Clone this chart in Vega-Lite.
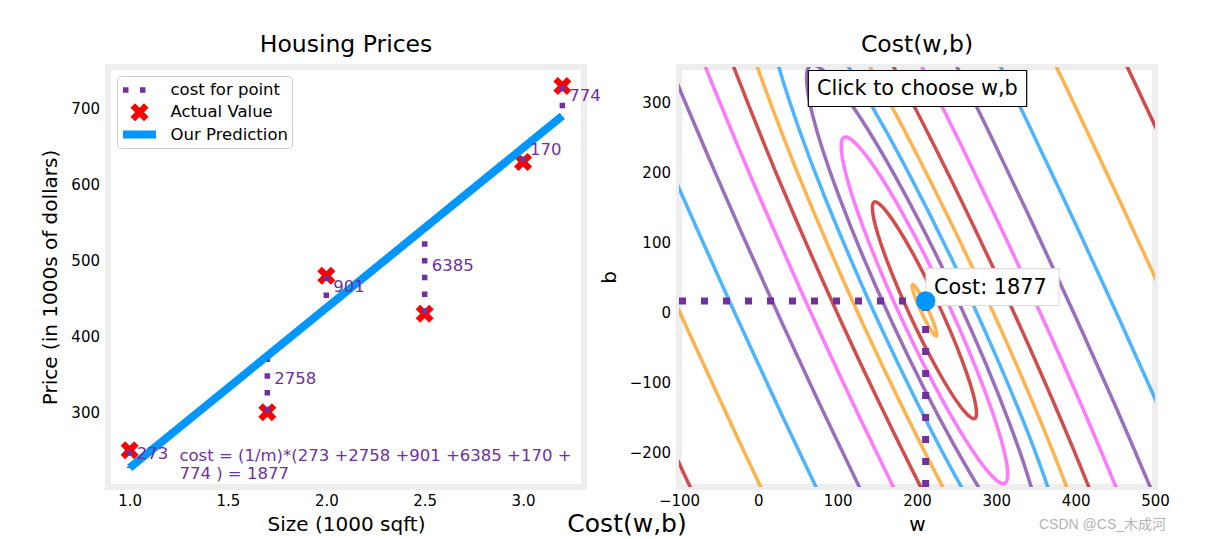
{
  "$schema": "https://vega.github.io/schema/vega-lite/v6.json",
  "background": "white",
  "padding": {"left": 37, "top": 29, "right": 5, "bottom": 0},
  "config": {
    "font": "DejaVu Sans",
    "view": {"stroke": "#eeeeee", "strokeWidth": 6},
    "axis": {"labelFont": "DejaVu Sans", "labelFontSize": 15, "labelColor": "#000000", "titleFont": "DejaVu Sans", "titleFontSize": 20, "titleFontWeight": "normal", "titleColor": "#000000", "ticks": false, "domain": false, "grid": false, "labelFlush": false},
    "title": {"font": "DejaVu Sans", "fontSize": 23.5, "fontWeight": "normal", "color": "#000000", "baseline": "alphabetic", "offset": 11}
  },
  "datasets": {
    "house": [
      {"x": 1.0, "y": 250, "f": 226.6, "mid": 238.3, "c": "273", "s": "Actual Value"},
      {"x": 1.7, "y": 300, "f": 374.3, "mid": 337.2, "c": "2758", "s": "Actual Value"},
      {"x": 2.0, "y": 480, "f": 437.6, "mid": 458.8, "c": "901", "s": "Actual Value"},
      {"x": 2.5, "y": 430, "f": 543.0, "mid": 486.5, "c": "6385", "s": "Actual Value"},
      {"x": 3.0, "y": 630, "f": 648.5, "mid": 639.3, "c": "170", "s": "Actual Value"},
      {"x": 3.2, "y": 730, "f": 690.7, "mid": 710.4, "c": "774", "s": "Actual Value"}
    ],
    "ell": [
      {"g": "e75", "l": "7.5", "o": 0, "w": 213.71, "b": 4.16},
      {"g": "e75", "l": "7.5", "o": 1, "w": 205.63, "b": 22.3},
      {"g": "e75", "l": "7.5", "o": 2, "w": 198.57, "b": 35.11},
      {"g": "e75", "l": "7.5", "o": 3, "w": 194.4, "b": 39.16},
      {"g": "e75", "l": "7.5", "o": 4, "w": 194.25, "b": 33.35},
      {"g": "e75", "l": "7.5", "o": 5, "w": 198.17, "b": 19.26},
      {"g": "e75", "l": "7.5", "o": 6, "w": 205.09, "b": 0.64},
      {"g": "e75", "l": "7.5", "o": 7, "w": 213.17, "b": -17.5},
      {"g": "e75", "l": "7.5", "o": 8, "w": 220.23, "b": -30.31},
      {"g": "e75", "l": "7.5", "o": 9, "w": 224.4, "b": -34.36},
      {"g": "e75", "l": "7.5", "o": 10, "w": 224.55, "b": -28.55},
      {"g": "e75", "l": "7.5", "o": 11, "w": 220.63, "b": -14.46},
      {"g": "e80", "l": "8.0", "o": 0, "w": 227.55, "b": 9.8},
      {"g": "e80", "l": "8.0", "o": 1, "w": 193.54, "b": 86.22},
      {"g": "e80", "l": "8.0", "o": 2, "w": 163.79, "b": 140.17},
      {"g": "e80", "l": "8.0", "o": 3, "w": 146.25, "b": 157.21},
      {"g": "e80", "l": "8.0", "o": 4, "w": 145.63, "b": 132.77},
      {"g": "e80", "l": "8.0", "o": 5, "w": 162.1, "b": 73.4},
      {"g": "e80", "l": "8.0", "o": 6, "w": 191.25, "b": -5.0},
      {"g": "e80", "l": "8.0", "o": 7, "w": 225.26, "b": -81.42},
      {"g": "e80", "l": "8.0", "o": 8, "w": 255.01, "b": -135.37},
      {"g": "e80", "l": "8.0", "o": 9, "w": 272.55, "b": -152.41},
      {"g": "e80", "l": "8.0", "o": 10, "w": 273.17, "b": -127.97},
      {"g": "e80", "l": "8.0", "o": 11, "w": 256.7, "b": -68.6},
      {"g": "e85", "l": "8.5", "o": 0, "w": 238.38, "b": 14.22},
      {"g": "e85", "l": "8.5", "o": 1, "w": 184.02, "b": 136.39},
      {"g": "e85", "l": "8.5", "o": 2, "w": 136.46, "b": 222.64},
      {"g": "e85", "l": "8.5", "o": 3, "w": 108.44, "b": 249.89},
      {"g": "e85", "l": "8.5", "o": 4, "w": 107.48, "b": 210.82},
      {"g": "e85", "l": "8.5", "o": 5, "w": 133.82, "b": 115.91},
      {"g": "e85", "l": "8.5", "o": 6, "w": 180.42, "b": -9.42},
      {"g": "e85", "l": "8.5", "o": 7, "w": 234.78, "b": -131.59},
      {"g": "e85", "l": "8.5", "o": 8, "w": 282.34, "b": -217.84},
      {"g": "e85", "l": "8.5", "o": 9, "w": 310.36, "b": -245.09},
      {"g": "e85", "l": "8.5", "o": 10, "w": 311.32, "b": -206.02},
      {"g": "e85", "l": "8.5", "o": 11, "w": 284.98, "b": -111.11},
      {"g": "e90", "l": "9.0", "o": 0, "w": 250.42, "b": 19.13},
      {"g": "e90", "l": "9.0", "o": 1, "w": 173.46, "b": 192.07},
      {"g": "e90", "l": "9.0", "o": 2, "w": 106.14, "b": 314.18},
      {"g": "e90", "l": "9.0", "o": 3, "w": 66.48, "b": 352.76},
      {"g": "e90", "l": "9.0", "o": 4, "w": 65.12, "b": 297.44},
      {"g": "e90", "l": "9.0", "o": 5, "w": 102.42, "b": 163.09},
      {"g": "e90", "l": "9.0", "o": 6, "w": 168.38, "b": -14.33},
      {"g": "e90", "l": "9.0", "o": 7, "w": 245.34, "b": -187.27},
      {"g": "e90", "l": "9.0", "o": 8, "w": 312.66, "b": -309.38},
      {"g": "e90", "l": "9.0", "o": 9, "w": 352.32, "b": -347.96},
      {"g": "e90", "l": "9.0", "o": 10, "w": 353.68, "b": -292.64},
      {"g": "e90", "l": "9.0", "o": 11, "w": 316.38, "b": -158.29}
    ],
    "br": [
      {"g": "p95", "l": "9.5", "o": 0, "w": 395.03, "b": -353.87},
      {"g": "p95", "l": "9.5", "o": 1, "w": 352.21, "b": -209.35},
      {"g": "p95", "l": "9.5", "o": 2, "w": 301.56, "b": -68.0},
      {"g": "p95", "l": "9.5", "o": 3, "w": 245.70, "b": 71.21},
      {"g": "p95", "l": "9.5", "o": 4, "w": 184.91, "b": 208.40},
      {"g": "p95", "l": "9.5", "o": 5, "w": 141.01, "b": 298.49},
      {"g": "p95", "l": "9.5", "o": 6, "w": 92.87, "b": 386.85},
      {"g": "p95", "l": "9.5", "o": 7, "w": 47.21, "b": 454.63},
      {"g": "m95", "l": "9.5", "o": 0, "w": 325.93, "b": -382.05},
      {"g": "m95", "l": "9.5", "o": 1, "w": 255.45, "b": -248.81},
      {"g": "m95", "l": "9.5", "o": 2, "w": 192.78, "b": -112.38},
      {"g": "m95", "l": "9.5", "o": 3, "w": 135.32, "b": 26.19},
      {"g": "m95", "l": "9.5", "o": 4, "w": 82.81, "b": 166.76},
      {"g": "m95", "l": "9.5", "o": 5, "w": 51.17, "b": 261.85},
      {"g": "m95", "l": "9.5", "o": 6, "w": 23.77, "b": 358.67},
      {"g": "m95", "l": "9.5", "o": 7, "w": 8.99, "b": 439.03},
      {"g": "p100", "l": "10.0", "o": 0, "w": 419.57, "b": -343.86},
      {"g": "p100", "l": "10.0", "o": 1, "w": 371.96, "b": -201.29},
      {"g": "p100", "l": "10.0", "o": 2, "w": 319.70, "b": -60.6},
      {"g": "p100", "l": "10.0", "o": 3, "w": 263.64, "b": 78.53},
      {"g": "p100", "l": "10.0", "o": 4, "w": 203.90, "b": 216.15},
      {"g": "p100", "l": "10.0", "o": 5, "w": 161.79, "b": 306.97},
      {"g": "p100", "l": "10.0", "o": 6, "w": 117.41, "b": 396.86},
      {"g": "p100", "l": "10.0", "o": 7, "w": 79.70, "b": 467.88},
      {"g": "m100", "l": "10.0", "o": 0, "w": 301.39, "b": -392.06},
      {"g": "m100", "l": "10.0", "o": 1, "w": 235.70, "b": -256.87},
      {"g": "m100", "l": "10.0", "o": 2, "w": 174.64, "b": -119.78},
      {"g": "m100", "l": "10.0", "o": 3, "w": 117.38, "b": 18.87},
      {"g": "m100", "l": "10.0", "o": 4, "w": 63.82, "b": 159.01},
      {"g": "m100", "l": "10.0", "o": 5, "w": 30.39, "b": 253.37},
      {"g": "m100", "l": "10.0", "o": 6, "w": -0.77, "b": 348.66},
      {"g": "m100", "l": "10.0", "o": 7, "w": -23.5, "b": 425.78},
      {"g": "p105", "l": "10.5", "o": 0, "w": 445.72, "b": -333.19},
      {"g": "p105", "l": "10.5", "o": 1, "w": 395.55, "b": -191.67},
      {"g": "p105", "l": "10.5", "o": 2, "w": 342.2, "b": -51.43},
      {"g": "p105", "l": "10.5", "o": 3, "w": 286.0, "b": 87.65},
      {"g": "p105", "l": "10.5", "o": 4, "w": 227.01, "b": 225.58},
      {"g": "p105", "l": "10.5", "o": 5, "w": 186.03, "b": 316.86},
      {"g": "p105", "l": "10.5", "o": 6, "w": 143.56, "b": 407.53},
      {"g": "p105", "l": "10.5", "o": 7, "w": 108.34, "b": 479.56},
      {"g": "m105", "l": "10.5", "o": 0, "w": 275.24, "b": -402.73},
      {"g": "m105", "l": "10.5", "o": 1, "w": 212.11, "b": -266.49},
      {"g": "m105", "l": "10.5", "o": 2, "w": 152.14, "b": -128.95},
      {"g": "m105", "l": "10.5", "o": 3, "w": 95.02, "b": 9.75},
      {"g": "m105", "l": "10.5", "o": 4, "w": 40.71, "b": 149.58},
      {"g": "m105", "l": "10.5", "o": 5, "w": 6.15, "b": 243.48},
      {"g": "m105", "l": "10.5", "o": 6, "w": -26.92, "b": 337.99},
      {"g": "m105", "l": "10.5", "o": 7, "w": -52.14, "b": 414.1},
      {"g": "p110", "l": "11.0", "o": 0, "w": 476.71, "b": -320.55},
      {"g": "p110", "l": "11.0", "o": 1, "w": 424.90, "b": -179.69},
      {"g": "p110", "l": "11.0", "o": 2, "w": 370.77, "b": -39.77},
      {"g": "p110", "l": "11.0", "o": 3, "w": 314.46, "b": 99.26},
      {"g": "p110", "l": "11.0", "o": 4, "w": 256.02, "b": 237.41},
      {"g": "p110", "l": "11.0", "o": 5, "w": 215.82, "b": 329.01},
      {"g": "p110", "l": "11.0", "o": 6, "w": 174.55, "b": 420.17},
      {"g": "p110", "l": "11.0", "o": 7, "w": 140.71, "b": 492.77},
      {"g": "m110", "l": "11.0", "o": 0, "w": 244.25, "b": -415.37},
      {"g": "m110", "l": "11.0", "o": 1, "w": 182.76, "b": -278.47},
      {"g": "m110", "l": "11.0", "o": 2, "w": 123.57, "b": -140.61},
      {"g": "m110", "l": "11.0", "o": 3, "w": 66.56, "b": -1.86},
      {"g": "m110", "l": "11.0", "o": 4, "w": 11.70, "b": 137.75},
      {"g": "m110", "l": "11.0", "o": 5, "w": -23.64, "b": 231.33},
      {"g": "m110", "l": "11.0", "o": 6, "w": -57.91, "b": 325.35},
      {"g": "m110", "l": "11.0", "o": 7, "w": -84.51, "b": 400.89},
      {"g": "p115", "l": "11.5", "o": 0, "w": 514.76, "b": -305.02},
      {"g": "p115", "l": "11.5", "o": 1, "w": 461.79, "b": -164.64},
      {"g": "p115", "l": "11.5", "o": 2, "w": 407.07, "b": -24.96},
      {"g": "p115", "l": "11.5", "o": 3, "w": 350.69, "b": 114.04},
      {"g": "p115", "l": "11.5", "o": 4, "w": 292.66, "b": 252.36},
      {"g": "p115", "l": "11.5", "o": 5, "w": 253.02, "b": 344.19},
      {"g": "p115", "l": "11.5", "o": 6, "w": 212.6, "b": 435.70},
      {"g": "p115", "l": "11.5", "o": 7, "w": 179.67, "b": 508.66},
      {"g": "m115", "l": "11.5", "o": 0, "w": 206.2, "b": -430.9},
      {"g": "m115", "l": "11.5", "o": 1, "w": 145.87, "b": -293.52},
      {"g": "m115", "l": "11.5", "o": 2, "w": 87.27, "b": -155.42},
      {"g": "m115", "l": "11.5", "o": 3, "w": 30.33, "b": -16.64},
      {"g": "m115", "l": "11.5", "o": 4, "w": -24.94, "b": 122.80},
      {"g": "m115", "l": "11.5", "o": 5, "w": -60.84, "b": 216.15},
      {"g": "m115", "l": "11.5", "o": 6, "w": -95.96, "b": 309.82},
      {"g": "m115", "l": "11.5", "o": 7, "w": -123.47, "b": 385.0},
      {"g": "p120", "l": "12.0", "o": 0, "w": 562.35, "b": -285.61},
      {"g": "p120", "l": "12.0", "o": 1, "w": 508.52, "b": -145.58},
      {"g": "p120", "l": "12.0", "o": 2, "w": 453.36, "b": -6.08},
      {"g": "p120", "l": "12.0", "o": 3, "w": 396.91, "b": 132.90},
      {"g": "p120", "l": "12.0", "o": 4, "w": 339.20, "b": 271.34},
      {"g": "p120", "l": "12.0", "o": 5, "w": 299.98, "b": 363.34},
      {"g": "p120", "l": "12.0", "o": 6, "w": 260.19, "b": 455.11},
      {"g": "p120", "l": "12.0", "o": 7, "w": 227.9, "b": 528.33},
      {"g": "m120", "l": "12.0", "o": 0, "w": 158.61, "b": -450.31},
      {"g": "m120", "l": "12.0", "o": 1, "w": 99.14, "b": -312.58},
      {"g": "m120", "l": "12.0", "o": 2, "w": 40.98, "b": -174.30},
      {"g": "m120", "l": "12.0", "o": 3, "w": -15.89, "b": -35.5},
      {"g": "m120", "l": "12.0", "o": 4, "w": -71.48, "b": 103.82},
      {"g": "m120", "l": "12.0", "o": 5, "w": -107.80, "b": 197.0},
      {"g": "m120", "l": "12.0", "o": 6, "w": -143.55, "b": 290.41},
      {"g": "m120", "l": "12.0", "o": 7, "w": -171.7, "b": 365.33},
      {"g": "p125", "l": "12.5", "o": 0, "w": 622.65, "b": -261.01},
      {"g": "p125", "l": "12.5", "o": 1, "w": 568.17, "b": -121.25},
      {"g": "p125", "l": "12.5", "o": 2, "w": 512.68, "b": 18.12},
      {"g": "p125", "l": "12.5", "o": 3, "w": 456.19, "b": 157.08},
      {"g": "p125", "l": "12.5", "o": 4, "w": 398.70, "b": 295.62},
      {"g": "p125", "l": "12.5", "o": 5, "w": 359.82, "b": 387.75},
      {"g": "p125", "l": "12.5", "o": 6, "w": 320.49, "b": 479.71},
      {"g": "p125", "l": "12.5", "o": 7, "w": 288.68, "b": 553.13},
      {"g": "m125", "l": "12.5", "o": 0, "w": 98.31, "b": -474.91},
      {"g": "m125", "l": "12.5", "o": 1, "w": 39.49, "b": -336.91},
      {"g": "m125", "l": "12.5", "o": 2, "w": -18.34, "b": -198.50},
      {"g": "m125", "l": "12.5", "o": 3, "w": -75.17, "b": -59.68},
      {"g": "m125", "l": "12.5", "o": 4, "w": -130.98, "b": 79.54},
      {"g": "m125", "l": "12.5", "o": 5, "w": -167.64, "b": 172.59},
      {"g": "p130", "l": "13.0", "o": 0, "w": 699.37, "b": -229.72},
      {"g": "p130", "l": "13.0", "o": 1, "w": 644.4, "b": -90.15},
      {"g": "p130", "l": "13.0", "o": 2, "w": 588.66, "b": 49.11},
      {"g": "p130", "l": "13.0", "o": 3, "w": 532.12, "b": 188.05},
      {"g": "p130", "l": "13.0", "o": 4, "w": 474.82, "b": 326.67},
      {"g": "p130", "l": "13.0", "o": 5, "w": 436.19, "b": 418.91},
      {"g": "p130", "l": "13.0", "o": 6, "w": 397.21, "b": 511.0},
      {"g": "m130", "l": "13.0", "o": 0, "w": 21.59, "b": -506.2},
      {"g": "m130", "l": "13.0", "o": 1, "w": -36.74, "b": -368.01},
      {"g": "m130", "l": "13.0", "o": 2, "w": -94.32, "b": -229.49},
      {"g": "m130", "l": "13.0", "o": 3, "w": -151.10, "b": -90.65},
      {"g": "m130", "l": "13.0", "o": 4, "w": -207.1, "b": 48.49}
    ],
    "wb": [{"w": 210.9, "b": 15.7, "wlo": -100, "blo": -250}],
    "notes": [
      {"k": "cost", "x1": 211.4, "x2": 379.0, "y1": 62.1, "y2": 9.3, "tx": 221.4, "ty": 26, "t": "Cost: 1877"},
      {"k": "click", "x1": 63.0, "x2": 338.3, "y1": 345.0, "y2": 293.6, "tx": 74.0, "ty": 310.5, "t": "Click to choose w,b"}
    ]
  },
  "bounds": "flush",
  "spacing": 95,
  "resolve": {"scale": {"color": "independent", "shape": "independent", "stroke": "independent"}, "legend": {"color": "independent", "shape": "independent"}},
  "hconcat": [
    {
      "width": 476,
      "height": 420,
      "title": "Housing Prices",
      "data": {"name": "house"},
      "layer": [
        {
          "mark": {"type": "point", "filled": true, "size": 400, "opacity": 1, "strokeWidth": 0},
          "encoding": {
            "x": {"field": "x", "type": "quantitative", "scale": {"domain": [0.89, 3.31], "nice": false, "zero": false}, "axis": {"values": [1, 1.5, 2, 2.5, 3], "format": ".1f", "title": "Size (1000 sqft)", "labelPadding": 6, "titlePadding": 6}},
            "y": {"field": "y", "type": "quantitative", "scale": {"domain": [201.4, 755.2], "nice": false, "zero": false}, "axis": {"values": [300, 400, 500, 600, 700], "title": "Price (in 1000s of dollars)", "labelPadding": 8.5, "titlePadding": 10}},
            "color": {
              "field": "s", "type": "nominal",
              "scale": {"domain": ["cost for point", "Actual Value", "Our Prediction"], "range": ["#7030A0", "#ff0000", "#0096ff"]},
              "legend": {
                "title": null, "orient": "top-left", "offset": 9, "padding": 4,
                "fillColor": "#ffffff", "strokeColor": "#cccccc", "cornerRadius": 4,
                "labelFont": "DejaVu Sans", "labelFontSize": 16.5, "labelColor": "#000000", "labelLimit": 300,
                "symbolSize": 400, "symbolStrokeWidth": 0, "symbolOpacity": 1, "rowPadding": 3.3, "symbolOffset": 8.5, "labelOffset": 21
              }
            },
            "shape": {
              "field": "s", "type": "nominal",
              "scale": {
                "domain": ["cost for point", "Actual Value", "Our Prediction"],
                "range": [
                  "M-1.65,-0.275L-1.1,-0.275L-1.1,0.275L-1.65,0.275Z M0.05,-0.275L0.6,-0.275L0.6,0.275L0.05,0.275Z",
                  "M-0.9,-0.45L-0.45,-0.9L0,-0.45L0.45,-0.9L0.9,-0.45L0.45,0L0.9,0.45L0.45,0.9L0,0.45L-0.45,0.9L-0.9,0.45L-0.45,0Z",
                  "M-1.65,-0.4L1.65,-0.4L1.65,0.4L-1.65,0.4Z"
                ]
              },
              "legend": {
                "title": null, "orient": "top-left", "offset": 9, "padding": 4,
                "fillColor": "#ffffff", "strokeColor": "#cccccc", "cornerRadius": 4,
                "labelFont": "DejaVu Sans", "labelFontSize": 16.5, "labelColor": "#000000", "labelLimit": 300,
                "symbolSize": 400, "symbolStrokeWidth": 0, "symbolOpacity": 1, "symbolFillColor": "#7030A0", "rowPadding": 3.3, "symbolOffset": 8.5, "labelOffset": 21
              }
            }
          }
        },
        {
          "mark": {"type": "rule", "color": "#7030A0", "strokeWidth": 5.5, "strokeDash": [5.5, 11.2], "strokeCap": "butt"},
          "encoding": {
            "x": {"field": "x", "type": "quantitative"},
            "y": {"field": "y", "type": "quantitative"},
            "y2": {"field": "f"}
          }
        },
        {
          "mark": {"type": "line", "color": "#0096ff", "strokeWidth": 8, "strokeCap": "butt"},
          "encoding": {
            "x": {"field": "x", "type": "quantitative"},
            "y": {"field": "f", "type": "quantitative"}
          }
        },
        {
          "mark": {"type": "text", "align": "left", "baseline": "alphabetic", "dx": 7, "fontSize": 16.5, "color": "#7030A0"},
          "encoding": {
            "x": {"field": "x", "type": "quantitative"},
            "y": {"field": "mid", "type": "quantitative"},
            "text": {"field": "c"}
          }
        },
        {
          "data": {"values": [{"x": 1.253, "y": 235.7, "t": "cost = (1/m)*(273 +2758 +901 +6385 +170 +\n774 ) = 1877"}]},
          "mark": {"type": "text", "align": "left", "baseline": "alphabetic", "fontSize": 16.5, "color": "#7030A0", "lineBreak": "\n", "lineHeight": 18.5},
          "encoding": {
            "x": {"field": "x", "type": "quantitative"},
            "y": {"field": "y", "type": "quantitative"},
            "text": {"field": "t"}
          }
        }
      ]
    },
    {
      "width": 476,
      "height": 420,
      "title": "Cost(w,b)",
      "layer": [
        {
          "data": {"name": "ell"},
          "mark": {"type": "line", "interpolate": "cardinal-closed", "strokeWidth": 3.5, "opacity": 0.7, "clip": true},
          "encoding": {
            "x": {"field": "w", "type": "quantitative", "scale": {"domain": [-100, 500], "nice": false, "zero": false}, "axis": {"values": [-100, 0, 100, 200, 300, 400, 500], "title": "w", "labelPadding": 6, "titlePadding": 6}},
            "y": {"field": "b", "type": "quantitative", "scale": {"domain": [-250, 350], "nice": false, "zero": false}, "axis": {"values": [-200, -100, 0, 100, 200, 300], "title": "b", "labelPadding": 8.5, "titlePadding": 10}},
            "color": {"field": "l", "type": "nominal", "scale": {"domain": ["7.5", "8.0", "8.5", "9.0", "9.5", "10.0", "10.5", "11.0", "11.5", "12.0", "12.5", "13.0"], "range": ["#FF9300", "#C00000", "#FF40FF", "#7030A0", "#0096ff", "#FF9300", "#C00000", "#FF40FF", "#7030A0", "#0096ff", "#FF9300", "#C00000"]}, "legend": null},
            "detail": {"field": "g", "type": "nominal"},
            "order": {"field": "o", "type": "quantitative"}
          }
        },
        {
          "data": {"name": "br"},
          "mark": {"type": "line", "interpolate": "natural", "strokeWidth": 3.5, "opacity": 0.7, "clip": true},
          "encoding": {
            "x": {"field": "w", "type": "quantitative"},
            "y": {"field": "b", "type": "quantitative"},
            "color": {"field": "l", "type": "nominal", "legend": null},
            "detail": {"field": "g", "type": "nominal"},
            "order": {"field": "o", "type": "quantitative"}
          }
        },
        {
          "data": {"name": "wb"},
          "mark": {"type": "rule", "color": "#7030A0", "strokeWidth": 7, "strokeDash": [7, 15], "strokeCap": "butt"},
          "encoding": {
            "x": {"field": "wlo", "type": "quantitative"},
            "x2": {"field": "w"},
            "y": {"field": "b", "type": "quantitative"}
          }
        },
        {
          "data": {"name": "wb"},
          "mark": {"type": "rule", "color": "#7030A0", "strokeWidth": 7, "strokeDash": [7, 15], "strokeCap": "butt"},
          "encoding": {
            "x": {"field": "w", "type": "quantitative"},
            "y": {"field": "blo", "type": "quantitative"},
            "y2": {"field": "b"}
          }
        },
        {
          "data": {"name": "notes"},
          "mark": {"type": "rect", "fill": "#ffffff", "strokeWidth": 1.2},
          "encoding": {
            "x": {"field": "x1", "type": "quantitative"},
            "x2": {"field": "x2"},
            "y": {"field": "y1", "type": "quantitative"},
            "y2": {"field": "y2"},
            "stroke": {"field": "k", "type": "nominal", "scale": {"domain": ["cost", "click"], "range": ["#dddddd", "#000000"]}, "legend": null}
          }
        },
        {
          "data": {"name": "notes"},
          "mark": {"type": "text", "align": "left", "baseline": "alphabetic", "fontSize": 20.8, "color": "#000000"},
          "encoding": {
            "x": {"field": "tx", "type": "quantitative"},
            "y": {"field": "ty", "type": "quantitative"},
            "text": {"field": "t"}
          }
        },
        {
          "data": {"name": "wb"},
          "mark": {"type": "circle", "size": 380, "color": "#0096ff", "opacity": 1},
          "encoding": {
            "x": {"field": "w", "type": "quantitative"},
            "y": {"field": "b", "type": "quantitative"}
          }
        },
        {
          "data": {"values": [{"x": -165.5, "y": -313.6, "t": "Cost(w,b)"}]},
          "mark": {"type": "text", "align": "center", "baseline": "alphabetic", "fontSize": 25, "color": "#000000"},
          "encoding": {
            "x": {"field": "x", "type": "quantitative"},
            "y": {"field": "y", "type": "quantitative"},
            "text": {"field": "t"}
          }
        },
        {
          "data": {"values": [{"x": 513.9, "y": -310.5, "t": "CSDN @CS_木成河"}]},
          "mark": {"type": "text", "align": "right", "baseline": "alphabetic", "fontSize": 14, "color": "#b4b4b4", "font": "'Liberation Sans', 'Noto Sans CJK SC', sans-serif"},
          "encoding": {
            "x": {"field": "x", "type": "quantitative"},
            "y": {"field": "y", "type": "quantitative"},
            "text": {"field": "t"}
          }
        }
      ]
    }
  ]
}
